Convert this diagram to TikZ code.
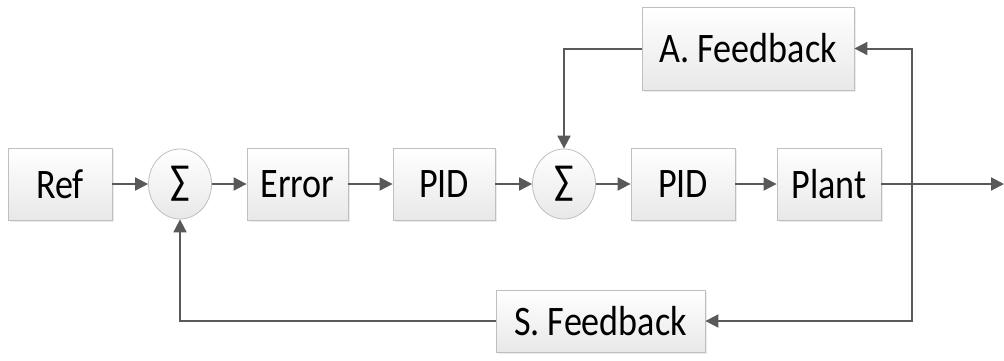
\documentclass[tikz,border=0pt]{standalone}
\usepackage{fontspec}
\setmainfont{Carlito}
\usetikzlibrary{arrows.meta,shadows,shapes.geometric}
\definecolor{lin}{HTML}{595959}
\definecolor{bord}{HTML}{BFBFBF}
\newcommand{\narrowtxt}[1]{\scalebox{0.86}[1]{#1}}
\tikzset{
  blk/.style={draw=bord, line width=0.8pt, top color=white, bottom color=black!9,
    drop shadow={shadow xshift=2pt, shadow yshift=-2pt, opacity=0.15},
    minimum height=72pt, inner sep=0pt, font=\fontsize{42}{46}\selectfont},
  sumnode/.style={ellipse, draw=bord, line width=0.8pt, top color=white, bottom color=black!9,
    minimum width=63pt, minimum height=70pt, inner sep=0pt, font=\fontsize{42}{46}\selectfont},
  conn/.style={draw=lin, line width=2pt},
  arr/.style={conn, -{Triangle[length=13pt,width=13pt]}, color=lin},
}
\begin{document}
\begin{tikzpicture}[x=1pt,y=-1pt]
\useasboundingbox (0,0) rectangle (1004,360);
\node[blk, minimum width=104pt] (ref) at (60,184) {\narrowtxt{Ref}};
\node[sumnode] (s1) at (180,184) {\narrowtxt{∑}};
\node[blk, minimum width=101pt] (err) at (297.5,184) {\narrowtxt{Error}};
\node[blk, minimum width=102pt] (pid1) at (444,184) {\narrowtxt{PID}};
\node[sumnode] (s2) at (564,184) {\narrowtxt{∑}};
\node[blk, minimum width=104pt] (pid2) at (683,184) {\narrowtxt{PID}};
\node[blk, minimum width=104pt] (plant) at (829,184) {\narrowtxt{Plant}};
\node[blk, minimum width=212pt, minimum height=83pt] (af) at (748,48.5) {\narrowtxt{A. Feedback}};
\node[blk, minimum width=209pt, minimum height=62pt] (sf) at (600.5,321) {\narrowtxt{S. Feedback}};
\coordinate (out) at (1004,184);
\coordinate (tap) at (912,184);
\draw[arr] (ref) -- (s1);
\draw[arr] (s1) -- (err);
\draw[arr] (err) -- (pid1);
\draw[arr] (pid1) -- (s2);
\draw[arr] (s2) -- (pid2);
\draw[arr] (pid2) -- (plant);
\draw[arr] (plant) -- (out);
\draw[arr] (tap) |- (af.east);
\draw[arr] (tap) |- (sf.east);
\draw[arr] (af.west) -| (s2.north);
\draw[arr] (sf.west) -| (s1.south);
\end{tikzpicture}
\end{document}
